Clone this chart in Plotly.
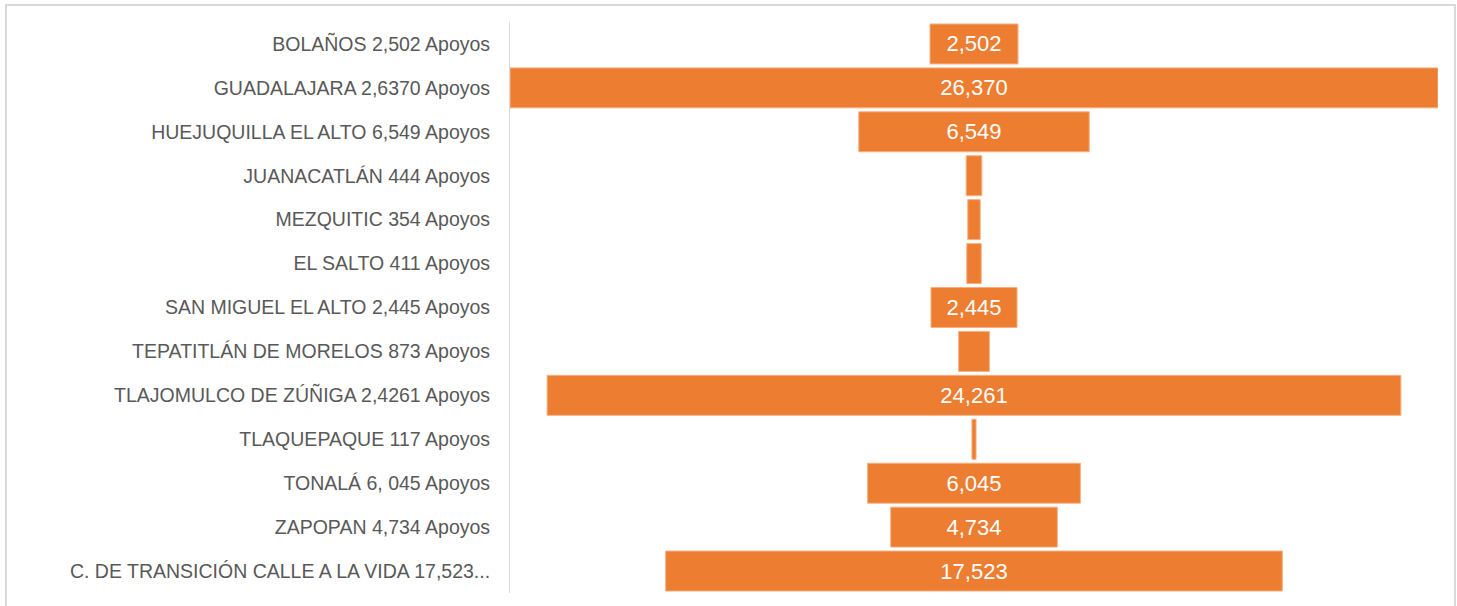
import plotly.graph_objects as go

categories = [
    "BOLAÑOS 2,502 Apoyos",
    "GUADALAJARA 2,6370 Apoyos",
    "HUEJUQUILLA EL ALTO 6,549 Apoyos",
    "JUANACATLÁN 444 Apoyos",
    "MEZQUITIC 354 Apoyos",
    "EL SALTO 411 Apoyos",
    "SAN MIGUEL EL ALTO 2,445 Apoyos",
    "TEPATITLÁN DE MORELOS 873 Apoyos",
    "TLAJOMULCO DE ZÚÑIGA 2,4261 Apoyos",
    "TLAQUEPAQUE 117 Apoyos",
    "TONALÁ 6, 045 Apoyos",
    "ZAPOPAN 4,734 Apoyos",
    "C. DE TRANSICIÓN CALLE A LA VIDA 17,523...",
]
values = [2502, 26370, 6549, 444, 354, 411, 2445, 873, 24261, 117, 6045, 4734, 17523]

W, H = 1457, 606
L, R, T, B = 510, 19, 22, 13

fig = go.Figure(go.Funnel(
    y=categories,
    x=values,
    marker=dict(color="#ED7D31", line=dict(color="#F6B084", width=1)),
    connector=dict(visible=False),
    texttemplate="%{x:,}",
    textposition="inside",
    insidetextanchor="middle",
    textfont=dict(color="white", size=22, family="Liberation Sans"),
    hoverinfo="y+x",
))

half = max(values) / 2
pw = W - L - R
ph = H - T - B
fig.update_layout(
    width=W, height=H,
    margin=dict(l=L, r=R, t=T, b=B),
    paper_bgcolor="white",
    plot_bgcolor="white",
    funnelgap=0.09,
    showlegend=False,
    uniformtext=dict(minsize=20, mode="hide"),
    xaxis=dict(range=[-half, half], visible=False, showgrid=False, zeroline=False),
    yaxis=dict(
        showline=True, linecolor="#D9D9D9", linewidth=1,
        tickfont=dict(family="Liberation Sans", size=19.5, color="#595959"),
        ticks="", ticklabelstandoff=15,
        showgrid=False,
    ),
    shapes=[dict(
        type="rect", xref="paper", yref="paper",
        x0=(6 - L) / pw, x1=(1455 - L) / pw,
        y0=(H - B - 610) / ph, y1=(H - B - 5) / ph,
        line=dict(color="#D9D9D9", width=2),
        fillcolor="rgba(0,0,0,0)", layer="below",
    )],
)

fig.write_html(
    "out.html",
    config={"displayModeBar": False},
    post_script="document.body.style.margin='0';document.body.style.overflow='hidden';",
)
